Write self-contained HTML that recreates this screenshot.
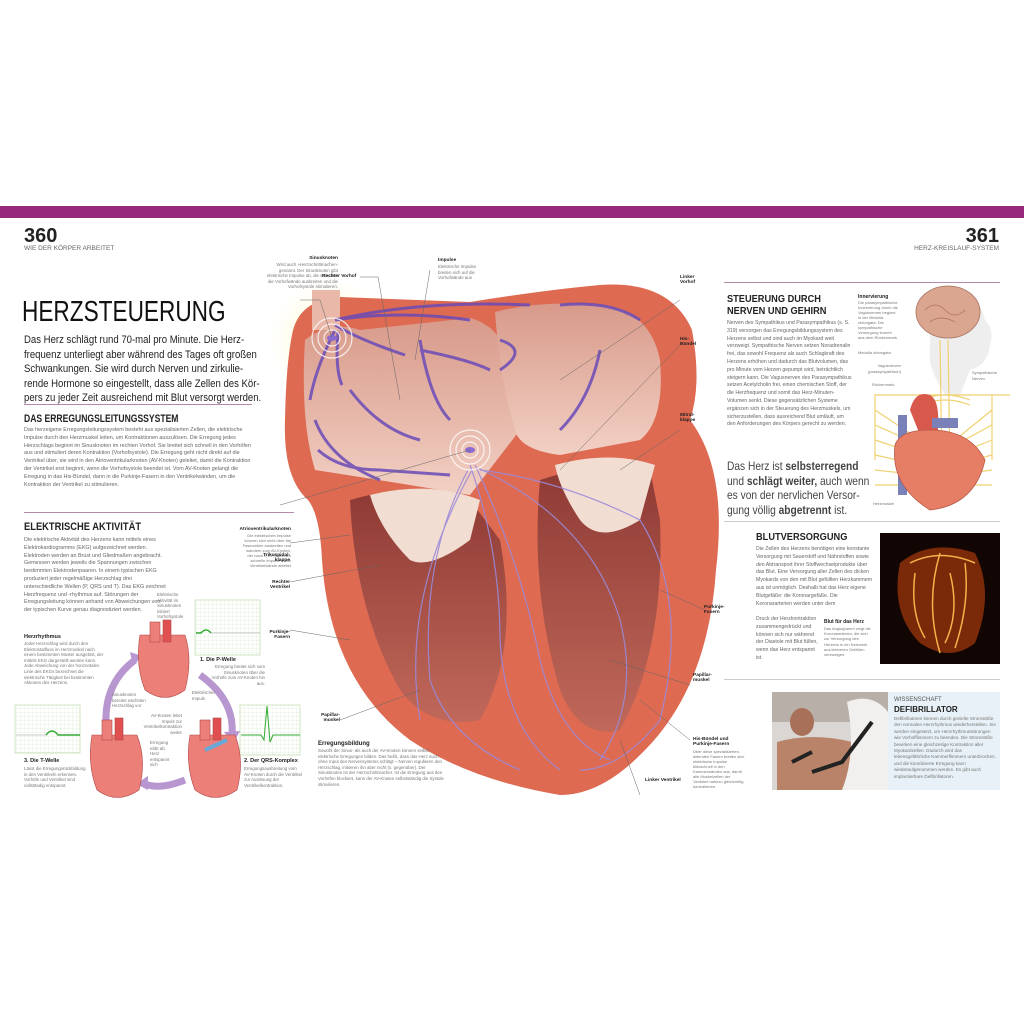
<!DOCTYPE html>
<html><head><meta charset="utf-8">
<style>
*{margin:0;padding:0;box-sizing:border-box}
body{width:1024px;height:1024px;background:#fff;position:relative;overflow:hidden;font-family:"Liberation Sans",sans-serif;color:#333}
.a{position:absolute}
.t{font-size:5.4px;line-height:7.8px;color:#666}
.s{font-size:4.4px;line-height:5.6px;color:#777}
.b{font-weight:bold;color:#222}
.h{font-weight:bold;color:#222;font-size:11px;transform-origin:left top;white-space:nowrap}
.ln{position:absolute;height:1px;background:#b58aa8}
.nw{white-space:nowrap}
</style></head><body>
<div class="a" style="left:0;top:206px;width:1024px;height:12px;background:#97287a"></div>
<div class="a b" style="left:24px;top:225px;font-size:20px">360</div>
<div class="a" style="left:24px;top:245px;font-size:6.5px;color:#666">WIE DER KÖRPER ARBEITET</div>
<div class="a b" style="right:25px;top:225px;font-size:20px">361</div>
<div class="a" style="right:25px;top:245px;font-size:6.5px;color:#666">HERZ-KREISLAUF-SYSTEM</div>

<div class="a h" style="left:22px;top:296px;font-size:29px;font-weight:normal;color:#111;transform:scaleX(0.78)">HERZSTEUERUNG</div>
<div class="a nw" style="left:24px;top:333px;font-size:11.4px;line-height:14.6px;color:#222;transform:scaleX(0.84);transform-origin:left top">Das Herz schlägt rund 70-mal pro Minute. Die Herz-<br>frequenz unterliegt aber während des Tages oft großen<br>Schwankungen. Sie wird durch Nerven und zirkulie-<br>rende Hormone so eingestellt, dass alle Zellen des Kör-<br>pers zu jeder Zeit ausreichend mit Blut versorgt werden.</div>
<div class="ln" style="left:24px;top:404px;width:228px"></div>
<div class="a h" style="left:24px;top:413px;transform:scaleX(0.78)">DAS ERREGUNGSLEITUNGSSYSTEM</div>
<div class="a t" style="left:24px;top:427px;width:232px">Das herzeigene Erregungsleitungssystem besteht aus spezialisierten Zellen, die elektrische Impulse durch den Herzmuskel leiten, um Kontraktionen auszulösen. Die Erregung jedes Herzschlags beginnt im Sinusknoten im rechten Vorhof. Sie breitet sich schnell in den Vorhöfen aus und stimuliert deren Kontraktion (Vorhofsystole). Die Erregung geht nicht direkt auf die Ventrikel über, sie wird in den Atrioventrikularknoten (AV-Knoten) geleitet, damit die Kontraktion der Ventrikel erst beginnt, wenn die Vorhofsystole beendet ist. Vom AV-Knoten gelangt die Erregung in das His-Bündel, dann in die Purkinje-Fasern in den Ventrikelwänden, um die Kontraktion der Ventrikel zu stimulieren.</div>
<div class="ln" style="left:24px;top:512px;width:270px"></div>
<div class="a h" style="left:24px;top:521px;transform:scaleX(0.85)">ELEKTRISCHE AKTIVITÄT</div>
<div class="a t" style="left:24px;top:537px;width:145px">Die elektrische Aktivität des Herzens kann mittels eines Elektrokardiogramms (EKG) aufgezeichnet werden. Elektroden werden an Brust und Gliedmaßen angebracht. Gemessen werden jeweils die Spannungen zwischen bestimmten Elektrodenpaaren. In einem typischen EKG produziert jeder regelmäßige Herzschlag drei unterschiedliche Wellen (P, QRS und T). Das EKG zeichnet Herzfrequenz und -rhythmus auf. Störungen der Erregungsleitung können anhand von Abweichungen von der typischen Kurve genau diagnostiziert werden.</div>
<div class="a b" style="left:24px;top:634px;font-size:5.5px">Herzrhythmus</div>
<div class="a s" style="left:24px;top:641px;width:80px">Jeder Herzschlag wird durch den Elektrostatfluss im Herzmuskel nach einem bestimmten Muster ausgelöst, der mittels EKG dargestellt werden kann. Jede Abweichung von der horizontalen Linie des EKGs bezeichnet die elektrische Tätigkeit bei bestimmten Aktionen des Herzens.</div>

<svg class="a" style="left:0;top:580px" width="310" height="230">
<defs><pattern id="g" width="4" height="4" patternUnits="userSpaceOnUse"><path d="M4 0H0V4" fill="none" stroke="#cfe6c2" stroke-width="0.5"/></pattern></defs>
<rect x="195" y="20" width="65" height="55" fill="url(#g)" stroke="#cfe6c2"/>
<rect x="240" y="125" width="60" height="50" fill="url(#g)" stroke="#cfe6c2"/>
<rect x="15" y="125" width="65" height="48" fill="url(#g)" stroke="#cfe6c2"/>
<path d="M196 53h5q5-6 10 0h49" stroke="#ccc" fill="none"/><path d="M196 53h5q5-6 10 0" stroke="#3a3" stroke-width="1.5" fill="none"/>
<path d="M241 155h20l3 5 3-34 3 36 3-7h27" stroke="#3a3" fill="none"/>
<path d="M16 155h30q6-8 12 0h22" stroke="#ccc" fill="none"/><path d="M46 155q6-8 12 0h22" stroke="#3a3" stroke-width="1.5" fill="none"/>
<path d="M110 170 Q95 110 135 80" stroke="#b896cf" stroke-width="7" fill="none"/><path d="M130 72l12 4-9 10z" fill="#b896cf"/>
<path d="M200 95 Q235 120 232 155" stroke="#b896cf" stroke-width="7" fill="none"/><path d="M224 152l9 12 7-13z" fill="#b896cf"/>
<path d="M185 200 Q160 210 145 204" stroke="#b896cf" stroke-width="7" fill="none"/><path d="M148 196l-12 8 12 6z" fill="#b896cf"/>
<g fill="#ec7f78" stroke="#b04848" stroke-width="0.6">
<path d="M140 55q-5 30 5 55 20 15 40 0 8-30 0-55z"/><rect x="150" y="42" width="10" height="20"/><rect x="163" y="40" width="8" height="22" fill="#e05050"/>
<path d="M92 155q-5 30 5 55 20 15 42 0 8-30-2-55z"/><rect x="102" y="140" width="10" height="20"/><rect x="115" y="138" width="8" height="22" fill="#e05050"/>
<path d="M190 155q-5 30 5 55 20 15 42 0 8-30-2-55z"/><rect x="200" y="140" width="10" height="20"/><rect x="213" y="138" width="8" height="22" fill="#e05050"/>
</g>
<path d="M205 170l22 -10" stroke="#6aa8d8" stroke-width="4"/>
</svg>
<div class="a s" style="left:157px;top:592px;width:34px">Elektrische Aktivität im Sinusknoten initiiert Vorhofsystole</div>
<div class="a b" style="left:200px;top:657px;font-size:5.5px">1. Die P-Welle</div>
<div class="a s" style="left:210px;top:664px;width:55px;text-align:right">Erregung breitet sich vom Sinusknoten über die Vorhöfe zum AV-Knoten hin aus.</div>
<div class="a s" style="left:112px;top:692px;width:40px">Sinusknoten bereitet nächsten Herzschlag vor</div>
<div class="a s" style="left:192px;top:690px;width:30px">Elektrischer Impuls</div>
<div class="a s" style="left:137px;top:713px;width:45px;text-align:right">AV-Knoten leitet Impuls zur Ventrikelkontraktion weiter</div>
<div class="a s" style="left:150px;top:740px;width:22px">Erregung ebbt ab. Herz entspannt sich</div>
<div class="a b" style="left:24px;top:758px;font-size:5.5px">3. Die T-Welle</div>
<div class="a s" style="left:24px;top:766px;width:62px">Lässt die Erregungsrückbildung in den Ventrikeln erkennen. Vorhöfe und Ventrikel sind vollständig entspannt.</div>
<div class="a b" style="left:244px;top:758px;font-size:5.5px">2. Der QRS-Komplex</div>
<div class="a s" style="left:244px;top:766px;width:60px">Erregungsausbreitung vom AV-Knoten durch die Ventrikel zur Auslösung der Ventrikelkontraktion.</div>

<svg class="a" style="left:0;top:0" width="1024" height="1024">
<defs>
<radialGradient id="glow" cx="0.5" cy="0.5" r="0.5"><stop offset="0" stop-color="#fffbd0"/><stop offset="1" stop-color="#fffbd0" stop-opacity="0"/></radialGradient>
<linearGradient id="at" x1="0" y1="0" x2="0" y2="1"><stop offset="0" stop-color="#d89a8a"/><stop offset="1" stop-color="#f2d0c4"/></linearGradient>
<linearGradient id="vt" x1="0" y1="0" x2="0" y2="1"><stop offset="0" stop-color="#8e3a34"/><stop offset="1" stop-color="#c0685a"/></linearGradient>
</defs>
<circle cx="330" cy="340" r="60" fill="url(#glow)"/>
<path d="M292 335 Q298 300 340 297 L470 302 Q545 290 600 285 Q670 280 692 330 Q702 385 690 420 Q728 470 716 570 Q708 690 640 755 Q600 795 560 795 Q470 780 410 740 Q330 680 322 560 Q320 515 308 500 Q283 478 285 420 Q286 365 292 335 Z" fill="#de6a52"/>
<path d="M305 340 Q330 320 360 330 L470 318 Q520 330 520 430 L470 495 Q380 480 315 470 Q300 420 305 340Z" fill="url(#at)"/>
<path d="M495 312 Q540 300 600 305 Q650 310 660 360 Q665 420 640 440 L560 455 Q520 450 515 430 Q500 380 495 312Z" fill="url(#at)"/>
<rect x="312" y="290" width="28" height="40" fill="#e9b8a8"/>
<path d="M350 500 Q420 480 470 500 L500 540 Q520 650 480 720 Q430 730 400 690 Q355 610 350 500Z" fill="url(#vt)"/>
<path d="M540 480 Q600 460 650 470 L660 520 Q665 650 620 730 Q580 740 560 690 Q530 590 540 480Z" fill="url(#vt)"/>
<path d="M370 495 Q430 480 480 500 L470 540 Q430 570 410 560 Q380 530 370 495Z" fill="#f1ddd2"/>
<path d="M555 465 Q610 450 655 465 L640 520 Q600 545 580 520 Q560 490 555 465Z" fill="#f1ddd2"/>
<g stroke="#9c8ad8" stroke-width="1.2" fill="none" opacity="0.9">
<path d="M470 465 Q500 550 500 640 Q505 730 560 770"/><path d="M475 465 Q520 560 540 660 Q560 740 610 760"/>
<path d="M468 470 Q420 560 430 680 Q450 740 520 770"/><path d="M480 470 Q560 480 640 520 Q690 600 660 720 Q620 770 580 770"/>
<path d="M478 468 Q590 520 620 620 Q640 700 600 760"/><path d="M472 470 Q400 600 420 720"/>
</g>
<g stroke="#6a4bb8" stroke-width="3" fill="none" opacity="0.85">
<path d="M335 320 Q420 300 530 305"/><path d="M335 320 Q400 310 470 320"/><path d="M335 325 Q360 340 405 355"/>
<path d="M335 330 Q315 370 310 400"/><path d="M338 332 Q335 370 342 385"/><path d="M315 420 Q330 460 380 480"/>
<path d="M318 450 Q340 470 380 470 L450 475"/><path d="M350 390 Q380 430 420 440"/><path d="M420 340 Q430 400 450 420"/>
<path d="M560 305 Q610 300 640 320"/><path d="M500 340 Q530 350 500 370"/><path d="M600 350 Q590 400 560 430"/><path d="M420 350 Q470 360 490 370"/>
</g>
<g fill="none" stroke="#fff" stroke-width="1.2" opacity="0.8"><circle cx="470" cy="450" r="8"/><circle cx="470" cy="450" r="14"/><circle cx="470" cy="450" r="20"/><circle cx="332" cy="338" r="8"/><circle cx="332" cy="338" r="14"/><circle cx="332" cy="338" r="20"/></g>
<ellipse cx="470" cy="450" rx="5" ry="3" fill="#8a6bd0"/><ellipse cx="332" cy="338" rx="5" ry="3" fill="#8a6bd0"/>
<g stroke="#666" stroke-width="0.5" fill="none">
<path d="M300 300L320 300L332 338"/><path d="M360 277L378 277L400 400"/><path d="M430 270L415 360"/><path d="M680 300L560 380"/>
<path d="M680 345L560 470"/><path d="M680 430L620 470"/><path d="M280 505L470 450"/><path d="M290 543L350 535"/>
<path d="M290 582L380 565"/><path d="M290 630L350 640"/><path d="M340 720L420 690"/><path d="M690 685L610 660"/>
<path d="M690 740L640 700"/><path d="M640 795L620 740"/><path d="M705 610L660 590"/>
</g>
</svg>
<div class="a b" style="left:286px;top:256px;font-size:4.8px;width:52px;text-align:right">Sinusknoten</div>
<div class="a s" style="left:262px;top:262px;width:76px;text-align:right">Wird auch »Herzschrittmacher« genannt. Der Sinusknoten gibt elektrische Impulse ab, die sich über die Vorhofwände ausbreiten und die Vorhofsystole stimulieren.</div>
<div class="a b" style="left:322px;top:274px;font-size:4.8px">Rechter Vorhof</div>
<div class="a b" style="left:438px;top:258px;font-size:4.8px">Impulse</div>
<div class="a s" style="left:438px;top:264px;width:45px">Elektrische Impulse breiten sich auf die Vorhofwände aus</div>
<div class="a b" style="left:680px;top:275px;font-size:4.8px">Linker<br>Vorhof</div>
<div class="a b" style="left:680px;top:337px;font-size:4.8px">His-<br>Bündel</div>
<div class="a b" style="left:680px;top:413px;font-size:4.8px">Mitral-<br>klappe</div>
<div class="a b" style="left:205px;top:527px;font-size:4.8px;width:86px;text-align:right">Atrioventrikularknoten</div>
<div class="a s" style="left:240px;top:533px;width:51px;text-align:right;font-size:4px;line-height:5px">Die elektrischen Impulse können sich nicht über die Faserzellen ausbreiten und wandern zum AV-Knoten, der nach 0,13 Sekunden schnelle Impulse in die Ventrikelwände ableitet</div>
<div class="a b" style="left:260px;top:553px;font-size:4.8px;width:30px;text-align:right">Trikuspidal-<br>klappe</div>
<div class="a b" style="left:260px;top:580px;font-size:4.8px;width:30px;text-align:right">Rechter<br>Ventrikel</div>
<div class="a b" style="left:260px;top:630px;font-size:4.8px;width:30px;text-align:right">Purkinje-<br>Fasern</div>
<div class="a b" style="left:310px;top:713px;font-size:4.8px;width:30px;text-align:right">Papillar-<br>muskel</div>
<div class="a b" style="left:318px;top:741px;font-size:6px">Erregungsbildung</div>
<div class="a s" style="left:318px;top:748px;width:130px">Sowohl der Sinus- als auch der AV-Knoten können selbst elektrische Erregungen bilden. Das heißt, dass das Herz auch ohne Input des Nervensystems schlägt – Nerven regulieren den Herzschlag, initiieren ihn aber nicht (s. gegenüber). Der Sinusknoten ist der Herzschrittmacher. Ist die Erregung aus den Vorhöfen blockiert, kann der AV-Knoten selbstständig die Systole stimulieren.</div>
<div class="a b" style="left:704px;top:605px;font-size:4.8px">Purkinje-<br>Fasern</div>
<div class="a b" style="left:693px;top:673px;font-size:4.8px">Papillar-<br>muskel</div>
<div class="a b" style="left:693px;top:737px;font-size:4.8px">His-Bündel und<br>Purkinje-Fasern</div>
<div class="a s" style="left:693px;top:749px;width:52px;font-size:4px;line-height:5px">Über diese spezialisierten, leitenden Fasern breiten sich elektrische Impulse blitzschnell in den Kammerwänden aus, damit alle Muskelzellen der Ventrikel nahezu gleichzeitig kontrahieren.</div>
<div class="a b" style="left:645px;top:778px;font-size:4.8px">Linker Ventrikel</div>

<div class="ln" style="left:724px;top:282px;width:276px"></div>
<div class="a h" style="left:727px;top:293px;font-size:10.5px;line-height:12px;transform:scaleX(0.88)">STEUERUNG DURCH<br>NERVEN UND GEHIRN</div>
<div class="a t" style="left:727px;top:320px;width:126px;font-size:5.2px">Nerven des Sympathikus und Parasympathikus (s. S. 319) versorgen das Erregungsbildungssystem des Herzens selbst und sind auch im Myokard weit verzweigt. Sympathische Nerven setzen Noradrenalin frei, das sowohl Frequenz als auch Schlagkraft des Herzens erhöhen und dadurch das Blutvolumen, das pro Minute vom Herzen gepumpt wird, beträchtlich steigern kann. Die Vagusnerven des Parasympathikus setzen Acetylcholin frei, einen chemischen Stoff, der die Herzfrequenz und somit das Herz-Minuten-Volumen senkt. Diese gegensätzlichen Systeme ergänzen sich in der Steuerung des Herzmuskels, um sicherzustellen, dass ausreichend Blut umläuft, um den Anforderungen des Körpers gerecht zu werden.</div>
<div class="a nw" style="left:727px;top:459px;font-size:12px;line-height:14.5px;color:#444;transform:scaleX(0.85);transform-origin:left top">Das Herz ist <b>selbsterregend</b><br>und <b>schlägt weiter,</b> auch wenn<br>es von der nervlichen Versor-<br>gung völlig <b>abgetrennt</b> ist.</div>
<div class="a b" style="left:858px;top:294px;font-size:5px">Innervierung</div>
<div class="a s" style="left:858px;top:300px;width:40px;font-size:4px;line-height:5px">Die parasympathische Innervierung durch die Vagusnerven beginnt in der Medulla oblongata. Die sympathische Versorgung kommt aus dem Rückenmark.</div>
<div class="a s" style="left:858px;top:350px;font-size:4px">Medulla oblongata</div>
<div class="a s" style="left:868px;top:363px;text-align:right;font-size:4px">Vagusnerven<br>(parasympathisch)</div>
<div class="a s" style="left:872px;top:382px;font-size:4px">Rückenmark</div>
<div class="a s" style="left:972px;top:370px;font-size:4px">Sympathische<br>Nerven</div>
<div class="a s" style="left:873px;top:501px;font-size:4px">Herzmuskel</div>
<svg class="a" style="left:860px;top:270px" width="150" height="250">
<path d="M70 20 Q115 10 125 50 Q135 60 130 75 Q128 95 110 100 L100 125 L85 125 Q70 100 70 90Z" fill="#eeeeee"/>
<ellipse cx="88" cy="42" rx="32" ry="26" fill="#dba68f" stroke="#a87060" stroke-width="0.8"/>
<path d="M65 40q10-10 20 0t20 0M70 52q10-8 25 0" stroke="#a87060" fill="none" stroke-width="0.7"/>
<g stroke="#f0d170" stroke-width="1.2" fill="none">
<path d="M80 70 L82 200"/><path d="M88 70 L90 200"/><path d="M60 130 Q85 120 110 130"/><path d="M60 135 Q85 125 110 135"/>
<path d="M15 190 L15 125 L150 125"/><path d="M132 190 L132 125"/>
<path d="M15 140L60 170M15 155L60 175M15 170L60 185M15 185L60 195M15 200L60 205M15 215L60 215"/>
<path d="M132 140L95 170M132 155L95 175M132 170L95 185M132 185L95 195M132 200L95 205M132 215L95 215"/>
</g>
<rect x="38" y="145" width="9" height="80" fill="#7a80b8"/>
<path d="M50 140 Q55 120 70 125 Q80 130 78 160 L60 165Z" fill="#d8584c"/>
<path d="M35 175 Q30 215 70 240 Q115 235 125 190 Q110 160 70 160 Q40 160 35 175Z" fill="#e67e66" stroke="#b85a48" stroke-width="0.8"/>
<rect x="72" y="148" width="26" height="10" fill="#7a80b8"/>
</svg>
<div class="ln" style="left:724px;top:521px;width:276px;background:#ccc"></div>
<div class="a h" style="left:756px;top:531px;font-size:10.5px;transform:scaleX(0.88)">BLUTVERSORGUNG</div>
<div class="a t" style="left:756px;top:546px;width:118px;font-size:5.2px">Die Zellen des Herzens benötigen eine konstante Versorgung mit Sauerstoff und Nährstoffen sowie den Abtransport ihrer Stoffwechselprodukte über das Blut. Eine Versorgung aller Zellen des dicken Myokards von den mit Blut gefüllten Herzkammern aus ist unmöglich. Deshalb hat das Herz eigene Blutgefäße: die Koronargefäße. Die Koronararterien werden unter dem</div>
<div class="a t" style="left:756px;top:616px;width:62px;font-size:5.2px">Druck der Herzkontraktion zusammengedrückt und können sich nur während der Diastole mit Blut füllen, wenn das Herz entspannt ist.</div>
<div class="a b" style="left:824px;top:619px;font-size:5px">Blut für das Herz</div>
<div class="a s" style="left:824px;top:626px;width:50px;font-size:4px;line-height:5.2px">Das Angiogramm zeigt die Koronararterien, die sich zur Versorgung des Herzens in ein Netzwerk aus kleineren Gefäßen verzweigen.</div>
<svg class="a" style="left:880px;top:533px" width="120" height="131">
<rect width="120" height="131" fill="#120604"/>
<path d="M20 30 Q50 5 95 20 Q115 60 95 110 Q70 130 40 110 Q10 80 20 30Z" fill="#7a2a08"/>
<g stroke="#f6b24a" stroke-width="1.5" fill="none"><path d="M30 30 Q60 15 95 30"/><path d="M60 20 Q45 70 60 120"/><path d="M85 30 Q90 70 75 115"/><path d="M35 40 Q30 80 45 105"/><path d="M70 40 Q80 80 65 110"/></g>
</svg>
<div class="ln" style="left:724px;top:679px;width:276px;background:#ccc"></div>
<svg class="a" style="left:772px;top:692px" width="116" height="98">
<rect width="116" height="98" fill="#d9d6d3"/>
<rect x="0" y="0" width="116" height="30" fill="#b8b0a8"/>
<ellipse cx="30" cy="30" rx="12" ry="14" fill="#a87058"/>
<path d="M5 50 Q40 40 80 50 L80 98 L5 98Z" fill="#b88368"/>
<path d="M75 10 Q100 0 116 20 L116 98 L70 98 Q85 60 75 10Z" fill="#f2f0ee"/>
<path d="M20 70 L40 60 M40 80 L70 70 L100 30" stroke="#222" stroke-width="4" fill="none"/>
</svg>
<div class="a" style="left:888px;top:692px;width:112px;height:98px;background:#e8f1f7"></div>
<div class="a" style="left:894px;top:697px;font-size:6px;color:#555">WISSENSCHAFT</div>
<div class="a b" style="left:894px;top:705px;font-size:8px">DEFIBRILLATOR</div>
<div class="a s" style="left:894px;top:716px;width:104px;font-size:4.6px;line-height:6.4px">Defibrillatoren können durch gezielte Stromstöße den normalen Herzrhythmus wiederherstellen. Sie werden eingesetzt, um Herzrhythmusstörungen wie Vorhofflimmern zu beenden. Die Stromstöße bewirken eine gleichzeitige Kontraktion aller Myokardzellen. Dadurch wird das lebensgefährliche Kammerflimmern unterbrochen, und die koordinierte Erregung kann wiederaufgenommen werden. Es gibt auch implantierbare Defibrillatoren.</div>
</body></html>
